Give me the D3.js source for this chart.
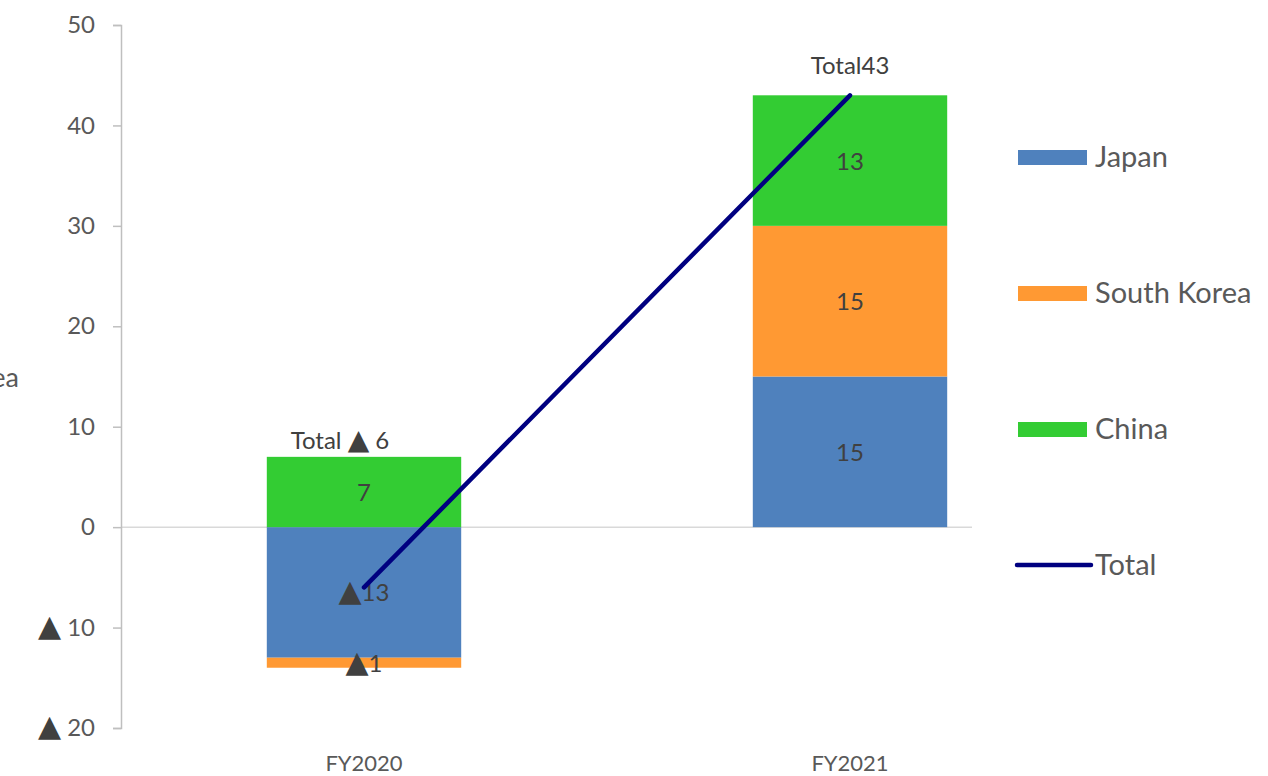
<!DOCTYPE html>
<html>
<head>
<meta charset="utf-8">
<script src="https://cdn.jsdelivr.net/npm/d3@7"></script>
<style>
  html, body { margin: 0; padding: 0; background: #fff; }
  svg { display: block; }
  text { font-family: Lato, "Noto Sans", sans-serif; }
</style>
</head>
<body>
<svg id="chart" width="1268" height="776"></svg>
<script>
const categories = ["FY2020", "FY2021"];
const seriesNames = ["Japan", "South Korea", "China"];
const japan = [-13, 15];
const southKorea = [-1, 15];
const china = [7, 13];
const total = [-6, 43];
const yTicks = [-20, -10, 0, 10, 20, 30, 40, 50];
const colors = ["#4F81BD", "#FF9933", "#33CC33"];
const totalColor = "#000080";
const axisTitle = "Area";

// split a value into [prefix triangle, number] parts
const TRI = "\u25B2";
function writeParts(sel, parts, triSize) {
  sel.each(function(p) {
    const t = d3.select(this);
    t.text(null);
    parts(p).forEach(part => {
      const ts = t.append("tspan").text(part.s);
      if (part.tri) ts.attr("font-size", triSize).attr("font-family", "DejaVu Sans").attr("fill", "#404040");
    });
  });
}
const valParts = (v, gap) => v < 0 ? [{s: TRI, tri: true}, {s: gap + Math.abs(v)}] : [{s: String(v)}];
const totalParts = v => v < 0 ? [{s: "Total "}, {s: TRI, tri: true}, {s: " " + Math.abs(v)}] : [{s: "Total" + v}];

const svg = d3.select("#chart");
const x = d3.scaleBand().domain(categories).range([121, 1093]).paddingInner(0.6).paddingOuter(0.3);
const y = d3.scaleLinear().domain([-20, 50]).range([728, 25]);

const rows = categories.map((c, i) => ({cat: c, "Japan": japan[i], "South Korea": southKorea[i], "China": china[i]}));
const stacked = d3.stack().keys(seriesNames).offset(d3.stackOffsetDiverging)(rows);

// zero gridline
svg.append("line").attr("x1", 121).attr("x2", 972).attr("y1", y(0)).attr("y2", y(0))
  .attr("stroke", "#d9d9d9").attr("stroke-width", 1.5);

// y axis
const yAxis = d3.axisLeft(y).tickValues(yTicks).tickSize(8).tickPadding(18);
const gy = svg.append("g").attr("transform", "translate(121,0)").call(yAxis);
gy.select(".domain").attr("stroke", "#bfbfbf").attr("stroke-width", 1.5);
gy.selectAll(".tick line").attr("stroke", "#bfbfbf").attr("stroke-width", 1.5);
gy.selectAll(".tick text").attr("fill", "#595959").attr("font-size", 24)
  .call(writeParts, v => valParts(v, " "), 30);

// x labels
svg.append("g").selectAll("text").data(categories).join("text")
  .attr("x", d => x(d) + x.bandwidth() / 2).attr("y", 771)
  .attr("text-anchor", "middle").attr("fill", "#595959").attr("font-size", 22).text(d => d);

// axis title (clipped at left edge, as in the reference)
svg.append("text").attr("x", 19).attr("y", 387).attr("text-anchor", "end")
  .attr("fill", "#595959").attr("font-size", 27).text(axisTitle);

// bars
const layers = svg.append("g").selectAll("g").data(stacked).join("g")
  .attr("fill", (d, i) => colors[i]);
layers.selectAll("rect").data(d => d).join("rect")
  .attr("x", d => x(d.data.cat)).attr("width", x.bandwidth())
  .attr("y", d => y(Math.max(d[0], d[1])))
  .attr("height", d => Math.abs(y(d[0]) - y(d[1])));

// data labels
stacked.forEach((layer, li) => {
  svg.append("g").selectAll("text").data(layer).join("text")
    .attr("x", d => x(d.data.cat) + x.bandwidth() / 2)
    .attr("y", d => y((d[0] + d[1]) / 2) + 9)
    .attr("text-anchor", "middle").attr("fill", "#404040").attr("font-size", 24)
    .call(writeParts, d => valParts(d.data[seriesNames[li]], ""), 30);
});

// total line
const line = d3.line().x((d, i) => x(categories[i]) + x.bandwidth() / 2).y(d => y(d));
svg.append("path").datum(total).attr("d", line).attr("fill", "none")
  .attr("stroke", totalColor).attr("stroke-width", 4.5).attr("stroke-linecap", "round");

// total labels (placed above the stack top)
const tops = stacked[stacked.length - 1].map(d => d[1]);
const labelDx = [-24, 0];
const labelDy = [-8, -21];
svg.append("g").selectAll("text").data(total).join("text")
  .attr("x", (d, i) => x(categories[i]) + x.bandwidth() / 2 + labelDx[i])
  .attr("y", (d, i) => y(tops[i]) + labelDy[i])
  .attr("text-anchor", "middle").attr("fill", "#404040").attr("font-size", 24)
  .call(writeParts, totalParts, 28);

// legend
const legendItems = seriesNames.map((n, i) => ({name: n, color: colors[i], type: "rect"}))
  .concat([{name: "Total", color: totalColor, type: "line"}]);
const lg = svg.append("g").selectAll("g").data(legendItems).join("g")
  .attr("transform", (d, i) => `translate(1018, ${157 + i * 136})`);
lg.filter(d => d.type === "rect").append("rect")
  .attr("x", 0).attr("y", -7).attr("width", 69).attr("height", 15).attr("fill", d => d.color);
lg.filter(d => d.type === "line").append("line")
  .attr("x1", -1).attr("x2", 73).attr("y1", 0).attr("y2", 0)
  .attr("stroke", d => d.color).attr("stroke-width", 4.5).attr("stroke-linecap", "round");
lg.append("text").attr("x", 77).attr("y", 10)
  .attr("fill", "#595959").attr("font-size", 29).text(d => d.name);
</script>
</body>
</html>
